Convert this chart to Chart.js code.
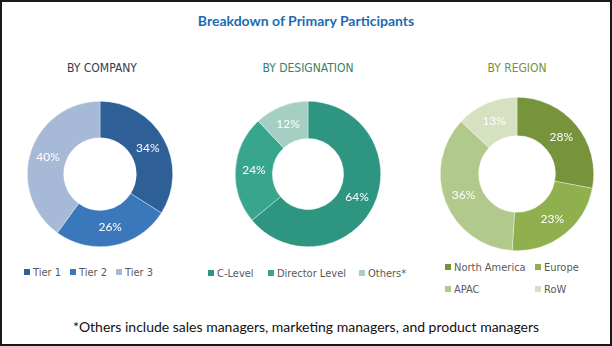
<!DOCTYPE html>
<html>
<head>
<meta charset="utf-8">
<script src="https://cdn.jsdelivr.net/npm/chart.js@4"></script>
<style>
  html, body { margin: 0; padding: 0; background: #fff; }
  #frame { position: relative; width: 612px; height: 346px; box-sizing: border-box; border: 2px solid #1a1a1a; overflow: hidden; }
  .abs { position: absolute; white-space: nowrap; }
  #title { left: 0; width: 608px; top: 10px; text-align: center; font: bold 14px Lato, "Open Sans", sans-serif; color: #1b6cb3; }
  .sub { top: 59px; width: 200px; text-align: center; font: 12px "Liberation Sans Narrow", "DejaVu Sans Condensed", sans-serif; }
  canvas { position: absolute; }
  .legend { font: 11px "Liberation Sans Narrow", "DejaVu Sans Condensed", sans-serif; color: #595959; }
  .legend span.item { position: absolute; }
  .legend i { display: inline-block; width: 6px; height: 6px; margin-right: 3px; vertical-align: 1px; }
  #note { left: 0; width: 608px; top: 316px; text-align: center; font: 14px Lato, "Open Sans", sans-serif; color: #111; }
</style>
</head>
<body>
<div id="frame">
  <div id="title" class="abs">Breakdown of Primary Participants</div>
  <div class="abs sub" style="left:0;color:#2f3b52">BY COMPANY</div>
  <div class="abs sub" style="left:206px;color:#3b7d6c">BY DESIGNATION</div>
  <div class="abs sub" style="left:415px;color:#76903a">BY REGION</div>

  <canvas id="c1" width="146" height="146" style="left:25px;top:99px"></canvas>
  <canvas id="c2" width="146" height="146" style="left:233px;top:99px"></canvas>
  <canvas id="c3" width="154" height="154" style="left:438px;top:95px"></canvas>

  <div id="lg1" class="abs legend"></div>
  <div id="lg2" class="abs legend"></div>
  <div id="lg3" class="abs legend"></div>

  <div id="note" class="abs">*Others include sales managers, marketing managers, and product managers</div>
</div>
<script>
  // ---- data ----
  const companyLabels = ["Tier 1", "Tier 2", "Tier 3"];
  const companyValues = [34, 26, 40];
  const companyColors = ["#2e5f96", "#3a78bb", "#a6b9d7"];

  const designationLabels = ["C-Level", "Director Level", "Others*"];
  const designationValues = [64, 24, 12];
  const designationColors = ["#2e9580", "#38a58d", "#a6cfc3"];

  const regionLabels = ["North America", "Europe", "APAC", "RoW"];
  const regionValues = [28, 23, 36, 13];
  const regionColors = ["#77933c", "#8fb04c", "#b1c98a", "#d5e1c0"];

  // draws "NN%" at each slice's centroid
  const pctLabels = {
    id: "pctLabels",
    afterDatasetsDraw(chart) {
      const ctx = chart.ctx;
      const meta = chart.getDatasetMeta(0);
      const vals = chart.data.datasets[0].data;
      ctx.save();
      ctx.fillStyle = "#fff";
      ctx.font = "12px Lato, 'Open Sans', sans-serif";
      ctx.textAlign = "center";
      ctx.textBaseline = "middle";
      meta.data.forEach((arc, i) => {
        const p = arc.tooltipPosition();
        ctx.fillText(vals[i] + "%", p.x, p.y);
      });
      ctx.restore();
    }
  };

  function donut(id, labels, values, colors, cutout) {
    return new Chart(document.getElementById(id), {
      type: "doughnut",
      data: { labels: labels, datasets: [{ data: values, backgroundColor: colors, borderColor: "rgba(255,255,255,0.6)", borderWidth: 0.6 }] },
      options: {
        responsive: false, animation: false, cutout: cutout,
        layout: { padding: 0 },
        plugins: { legend: { display: false }, tooltip: { enabled: false } }
      },
      plugins: [pctLabels]
    });
  }

  donut("c1", companyLabels, companyValues, companyColors, "50%");
  donut("c2", designationLabels, designationValues, designationColors, "49%");
  donut("c3", regionLabels, regionValues, regionColors, "50%");

  function legend(id, labels, colors, spots) {
    const box = document.getElementById(id);
    labels.forEach((l, i) => {
      const s = document.createElement("span");
      s.className = "item";
      s.style.left = spots[i][0] + "px";
      s.style.top = spots[i][1] + "px";
      s.innerHTML = '<i style="background:' + colors[i] + '"></i>' + l;
      box.appendChild(s);
    });
  }
  legend("lg1", companyLabels, companyColors, [[22, 264], [68, 264], [114, 264]]);
  legend("lg2", designationLabels, designationColors, [[206, 265], [266, 265], [357, 265]]);
  legend("lg3", regionLabels, regionColors, [[443, 259], [533, 259], [443, 281], [533, 281]]);
</script>
</body>
</html>
